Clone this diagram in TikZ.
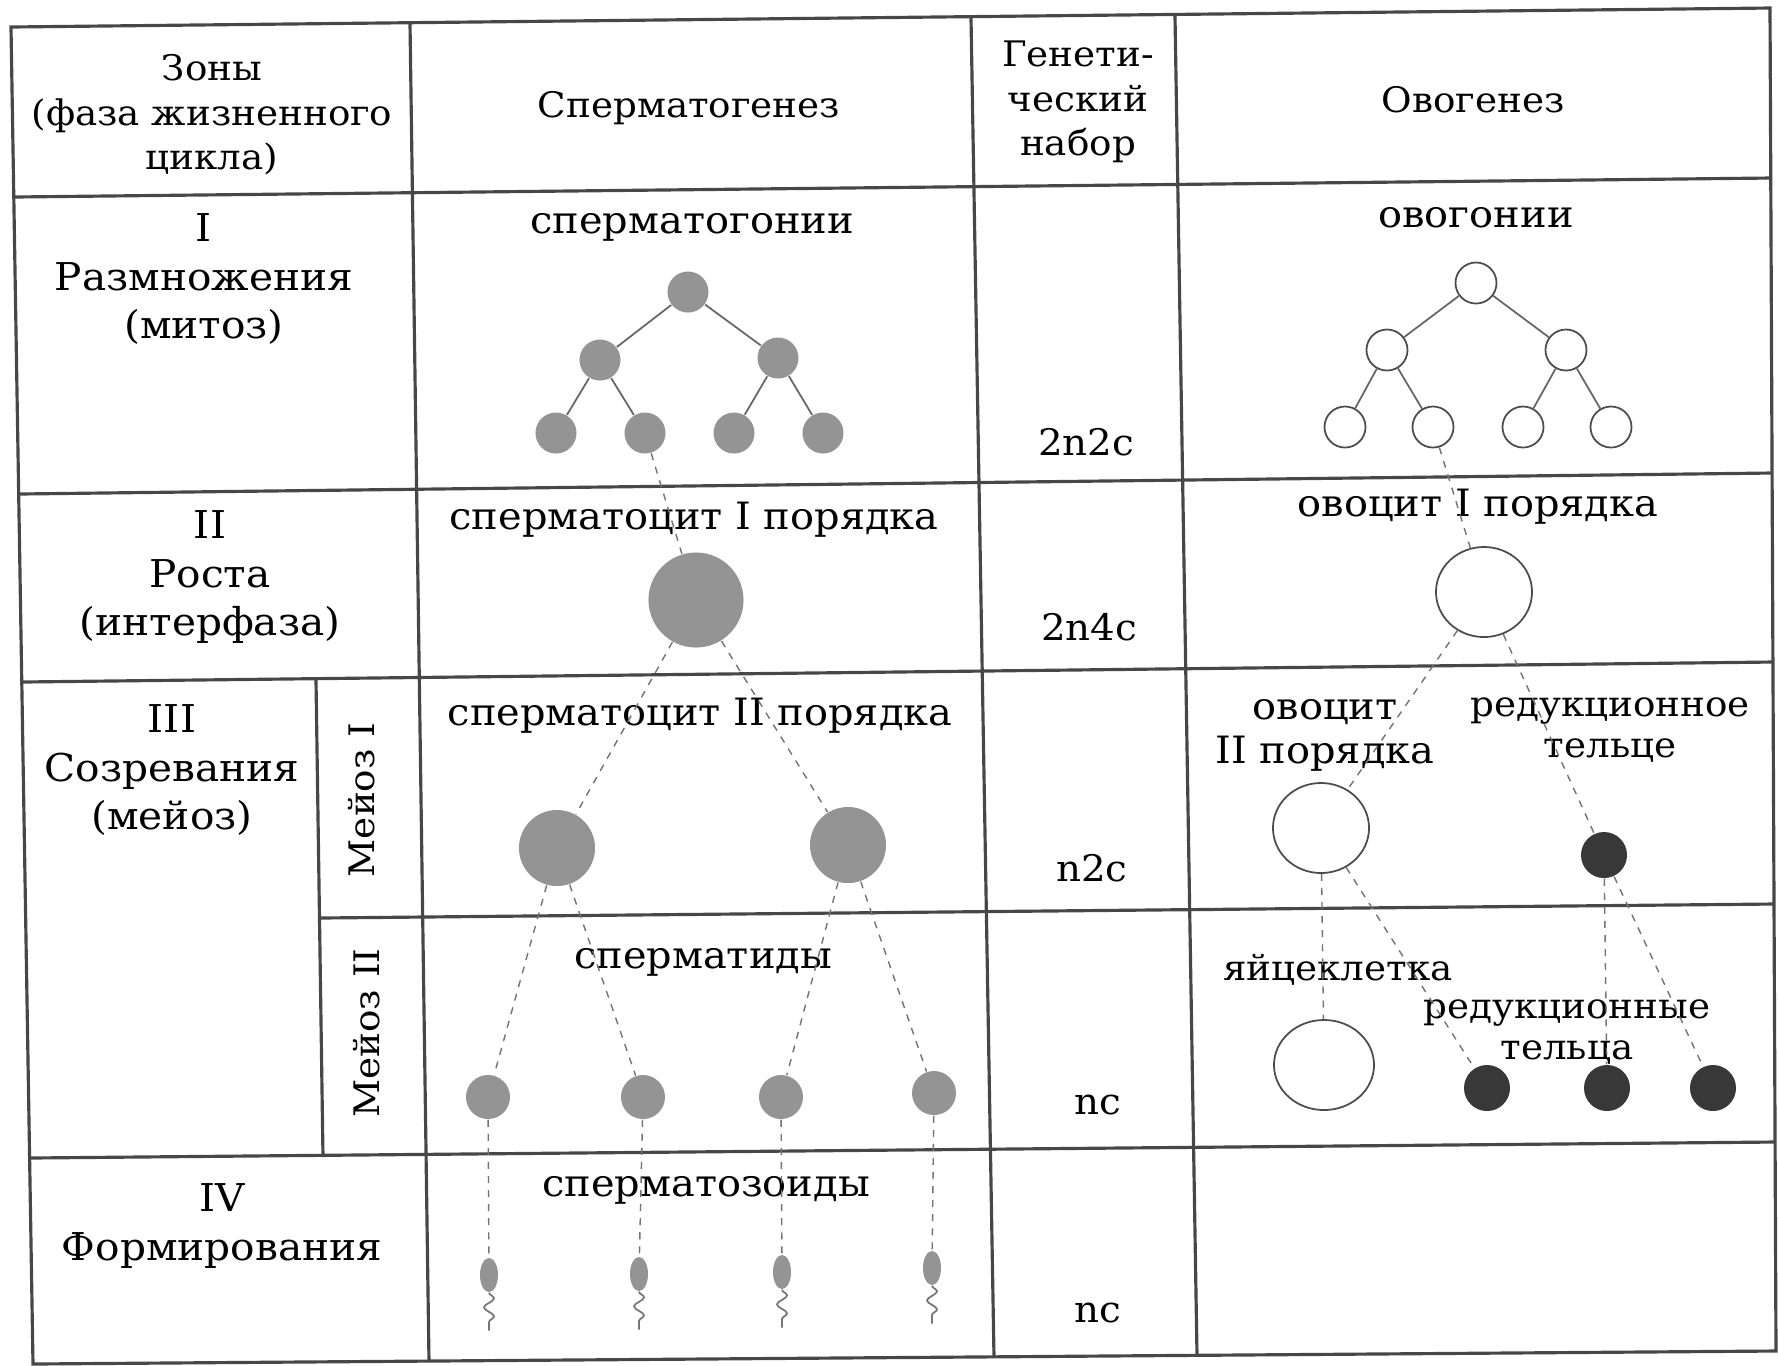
\documentclass[tikz,border=0pt]{standalone}
\usepackage{fontspec}
\setmainfont{DejaVu Serif}[FakeStretch=1.06]
\usepackage{xcolor}
\usepackage{tikz}
\usetikzlibrary{shapes.geometric,decorations.pathmorphing}

\definecolor{cellgray}{gray}{0.58}
\definecolor{polargray}{gray}{0.22}

\begin{document}
\begin{tikzpicture}[
  x=0.01cm,y=-0.01cm,
  font=\fontsize{10.7}{12.5}\selectfont,
  rule/.style={line width=0.9pt,draw=black!72},
  branch/.style={line width=0.5pt,draw=black!60},
  lineage/.style={line width=0.4pt,draw=black!55,dash pattern=on 2pt off 2pt},
  lbl/.style={align=center,inner sep=1pt},
  heading/.style={lbl,font=\fontsize{10}{12.7}\selectfont},
  zone/.style={lbl,font=\fontsize{10.9}{13.7}\selectfont},
  note/.style={lbl,font=\fontsize{10}{11.8}\selectfont},
  chrom/.style={font=\fontsize{10.4}{12.5}\selectfont},
  cell/.style={circle,inner sep=0pt},
  sperm cell/.style={cell,fill=cellgray},
  egg cell/.style={cell,draw=black!70,line width=0.5pt},
  polar body/.style={cell,fill=polargray,minimum size=0.46cm},
  gonium/.style={minimum size=0.41cm},
  big/.style={ellipse,minimum width=0.96cm,minimum height=0.9cm},
  head/.style={sperm cell,ellipse,minimum width=0.18cm,minimum height=0.34cm},
  tail/.style={line width=0.5pt,draw=cellgray!80!black,decorate,
    decoration={snake,amplitude=0.5mm,segment length=1.8mm}}]
  \useasboundingbox (0,0) rectangle (1778,1365);
  % table frame, columns and rows
  \draw[rule] (11,27) -- (1770,8) -- (1776,1351) -- (33,1364) -- cycle;
  \draw[rule] (410,23) -- (429,1362);
  \draw[rule] (971,18) -- (994,1357);
  \draw[rule] (1175,16) -- (1197,1355);
  \draw[rule] (316,680) -- (323,1157);
  \draw[rule] (14,197) -- (1771,178);
  \draw[rule] (19,494) -- (1772,473);
  \draw[rule] (22,682) -- (1773,662);
  \draw[rule] (320,918) -- (1774,904);
  \draw[rule] (30,1158) -- (1775,1142);

  % headings
  \node[heading] (zones) at (212,115) {Зоны\\(фаза жизненного\\цикла)};
  \node[heading] (spermhead) at (689,108) {Сперматогенез};
  \node[heading] (sethead) at (1078,102) {Генети-\\ческий\\набор};
  \node[heading] (ovohead) at (1473,100) {Овогенез};

  \node[zone] (zone1) at (204,279) {I\\Размножения\\(митоз)};
  \node[zone] (zone2) at (210,577) {II\\Роста\\(интерфаза)};
  \node[zone] (zone3) at (172,770) {III\\Созревания\\(мейоз)};
  \node[zone] (zone4) at (222,1226) {IV\\Формирования};
  \node[heading,rotate=90] (meiosis1) at (362,800) {Мейоз I};
  \node[heading,rotate=90] (meiosis2) at (367,1033) {Мейоз II};

  % chromosome sets
  \node[chrom] (set1) at (1086,442) {2n2c};
  \node[chrom] (set2) at (1089,627) {2n4c};
  \node[chrom] (set3) at (1092,868) {n2c};
  \node[chrom] (set4) at (1098,1105) {nc};
  \node[chrom] (set5) at (1098,1313) {nc};

  % spermatogenesis
  \node (sgtext) at (692,227) {сперматогонии};
  \node (sc1text) at (694,520) {сперматоцит I порядка};
  \node (sc2text) at (700,716) {сперматоцит II порядка};
  \node (sttext) at (703,962) {сперматиды};
  \node (sztext) at (706,1190) {сперматозоиды};

  \node[sperm cell,gonium] (sg1) at (688,292) {};
  \node[sperm cell,gonium] (sg2a) at (600,360) {};
  \node[sperm cell,gonium] (sg2b) at (778,358) {};
  \foreach \n/\x in {a/556,b/645,c/734,d/823}
    \node[sperm cell,gonium] (sg3\n) at (\x,433) {};
  \draw[branch] (sg1) -- (sg2a) (sg1) -- (sg2b)
    (sg2a) -- (sg3a) (sg2a) -- (sg3b) (sg2b) -- (sg3c) (sg2b) -- (sg3d);

  \node[sperm cell,minimum size=0.95cm] (sc1) at (696,600) {};
  \node[sperm cell,minimum size=0.76cm] (sc2a) at (557,848) {};
  \node[sperm cell,minimum size=0.76cm] (sc2b) at (848,845) {};
  \foreach \i/\x/\y in {1/488/1097,2/643/1097,3/781/1097,4/934/1093}
    \node[sperm cell,minimum size=0.44cm] (st\i) at (\x,\y) {};
  \foreach \i/\x/\y in {1/489/1275,2/639/1274,3/782/1272,4/932/1268} {
    \node[head] (sz\i) at (\x,\y) {};
    \draw[tail] (sz\i.south) -- ++(0,38);
  }

  \draw[lineage] (sg3b) -- (sc1) (sc1) -- (sc2a) (sc1) -- (sc2b)
    (sc2a) -- (st1) (sc2a) -- (st2) (sc2b) -- (st3) (sc2b) -- (st4);
  \foreach \i in {1,...,4}
    \draw[lineage] (st\i) -- (sz\i);

  % oogenesis
  \node (ogtext) at (1476,218) {овогонии};
  \node (oc1text) at (1478,507) {овоцит I порядка};
  \node[lbl] (oc2text) at (1325,735) {овоцит\\II порядка};
  \node[note] (pb1text) at (1610,730) {редукционное\\тельце};
  \node[note] (eggtext) at (1338,970) {яйцеклетка};
  \node[note] (pb2text) at (1567,1032) {редукционные\\тельца};

  \node[egg cell,gonium] (og1) at (1476,283) {};
  \node[egg cell,gonium] (og2a) at (1387,350) {};
  \node[egg cell,gonium] (og2b) at (1566,350) {};
  \foreach \n/\x in {a/1345,b/1433,c/1523,d/1611}
    \node[egg cell,gonium] (og3\n) at (\x,427) {};
  \draw[branch] (og1) -- (og2a) (og1) -- (og2b)
    (og2a) -- (og3a) (og2a) -- (og3b) (og2b) -- (og3c) (og2b) -- (og3d);

  \node[egg cell,big] (oc1) at (1484,592) {};
  \node[egg cell,big] (oc2) at (1321,828) {};
  \node[polar body] (pb1) at (1604,855) {};
  \node[egg cell,big,minimum width=1cm] (egg) at (1324,1065) {};
  \node[polar body] (pb2a) at (1487,1088) {};
  \node[polar body] (pb2b) at (1607,1088) {};
  \node[polar body] (pb2c) at (1713,1088) {};

  \draw[lineage] (og3b) -- (oc1) (oc1) -- (oc2) (oc1) -- (pb1)
    (oc2) -- (egg) (oc2) -- (pb2a) (pb1) -- (pb2b) (pb1) -- (pb2c);
\end{tikzpicture}
\end{document}
